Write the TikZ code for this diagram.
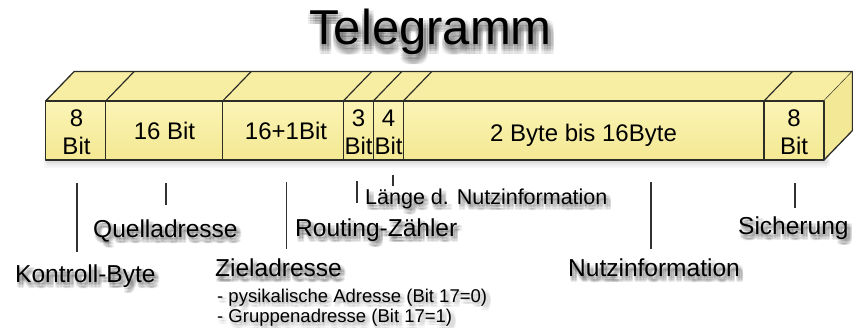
\documentclass[tikz,border=0pt]{standalone}
\usepackage{fontspec}
\setmainfont{Liberation Sans}
\usetikzlibrary{calc}

\definecolor{edgecol}{RGB}{45,45,40}
\definecolor{leadcol}{RGB}{50,50,50}
\definecolor{frontTop}{RGB}{251,244,182}
\definecolor{frontBot}{RGB}{244,232,146}
\definecolor{topFace}{RGB}{247,238,164}
\definecolor{sideFace}{RGB}{243,232,150}

\tikzset{
  face/.style={draw=edgecol, line width=1.3pt, line join=round},
  divider/.style={draw=edgecol, line width=1.2pt},
  leader/.style={draw=leadcol, line width=1.2pt},
  celltext/.style={inner sep=0pt, align=center, font=\fontsize{24}{28}\selectfont},
  biglabel/.style={inner sep=0pt, anchor=base west, font=\fontsize{24.5}{28}\selectfont},
  midlabel/.style={inner sep=0pt, anchor=base west, font=\fontsize{21.5}{25}\selectfont},
  smalllabel/.style={inner sep=0pt, anchor=base west, font=\fontsize{18.5}{21}\selectfont},
  titlestyle/.style={inner sep=0pt, anchor=base, font=\fontsize{49}{55}\selectfont},
}

% soft drop shadow under a text: gray copies spread over a small grid
\newcommand\shadowlabel[6]{%
  \foreach \sx/\sy in #5{%
    \node[#3, text=black, text opacity=#6] at ($(#2)+(\sx,\sy)$) {#4};}
  \node[#3] (#1) at (#2) {#4};
}
\def\labelblur{0.5/1.5,2/1.5,3.5/1.5,5/1.5,0.5/3,2/3,3.5/3,5/3,0.5/4.5,2/4.5,3.5/4.5,5/4.5,0.5/6,2/6,3.5/6,5/6}
\def\titleblur{-2/2,0.5/2,3/2,5.5/2,-2/4.5,0.5/4.5,3/4.5,5.5/4.5,-2/7,0.5/7,3/7,5.5/7,-2/9.5,0.5/9.5,3/9.5,5.5/9.5}

\begin{document}
\begin{tikzpicture}[x=1pt,y=-1pt]
\useasboundingbox (0,0) rectangle (853,328);

% title
\shadowlabel{title}{430.5,45}{titlestyle}{Telegramm}{\titleblur}{0.07}

% front face corners and depth offset
\def\dx{28.5}\def\dy{-29.5}
\coordinate (FL) at (45.7,101);
\coordinate (FR) at (824,101);
\coordinate (BL) at (45.7,160);
\coordinate (BR) at (824,160);

% faint shadow below the bar
\foreach \sx/\sy in {0/2,2/4,4/6,1/8,3/3}{
  \fill[black, opacity=0.035] ($(BL)+(\sx-3,\sy-6)$) rectangle ($(BR)+(\sx+2,\sy)$);}

% top face
\fill[topFace] (FL) -- ++(\dx,\dy) -- ($(FR)+(\dx,\dy)$) -- (FR) -- cycle;
\draw[face] (FL) -- ++(\dx,\dy) -- ($(FR)+(\dx,\dy)$) -- (FR);
% right face
\fill[sideFace] (FR) -- ++(\dx,\dy) -- ($(BR)+(\dx,\dy)$) -- (BR) -- cycle;
\draw[face] ($(FR)+(\dx,\dy)$) -- ($(BR)+(\dx,\dy)$) -- (BR);
% front face
\shade[top color=frontTop, bottom color=frontBot] (FL) rectangle (BR);
\draw[face] (FL) rectangle (BR);

% field borders on the front and top faces
\foreach \xx in {105.7,222.7,343.3,373.3,403.3,764}{
  \draw[divider] (\xx,101) -- (\xx,160);
  \draw[divider] (\xx,101) -- ++(\dx,\dy);}

% field contents
\node[celltext] (f1) at (76.5,132.5) {8\\Bit};
\node[celltext, anchor=base] (f2) at (164.5,140) {16 Bit};
\node[celltext, anchor=base] (f3) at (286,140) {16+1Bit};
\node[celltext] (f4) at (358.5,132.5) {3\\Bit};
\node[celltext] (f5) at (388.5,132.5) {4\\Bit};
\node[celltext, anchor=base] (f6) at (583.5,142) {2 Byte bis 16Byte};
\node[celltext] (f7) at (794,132.5) {8\\Bit};

% leader lines
\coordinate (k1) at (77,183);    \coordinate (k2) at (77,252);
\coordinate (q1) at (166,183);   \coordinate (q2) at (166,205);
\coordinate (z1) at (286.5,182); \coordinate (z2) at (286.5,249);
\coordinate (r1) at (357,181);   \coordinate (r2) at (357,203);
\coordinate (l1) at (393,175);   \coordinate (l2) at (393,186);
\coordinate (n1) at (651,182);   \coordinate (n2) at (651,249);
\coordinate (s1) at (795,183);   \coordinate (s2) at (795,208);
\foreach \a in {k,q,z,r,l,n,s}{\draw[leader] (\a1) -- (\a2);}

% labels
\shadowlabel{kontroll}{15,283}{biglabel}{Kontroll-Byte}{\labelblur}{0.055}
\shadowlabel{quelle}{93,238}{biglabel}{Quelladresse}{\labelblur}{0.055}
\shadowlabel{ziel}{215,277}{biglabel}{Zieladresse}{\labelblur}{0.055}
\shadowlabel{zielA}{217,302}{smalllabel}{- pysikalische Adresse (Bit 17=0)}{\labelblur}{0.03}
\shadowlabel{zielB}{217,322}{smalllabel}{- Gruppenadresse (Bit 17=1)}{\labelblur}{0.03}
\shadowlabel{routing}{295,237}{biglabel}{Routing-Zähler}{\labelblur}{0.055}
\shadowlabel{laenge}{365,205}{midlabel}{Länge d. Nutzinformation}{\labelblur}{0.05}
\shadowlabel{nutz}{568,277}{biglabel}{Nutzinformation}{\labelblur}{0.055}
\shadowlabel{sicher}{738,235}{biglabel}{Sicherung}{\labelblur}{0.055}
\end{tikzpicture}
\end{document}
